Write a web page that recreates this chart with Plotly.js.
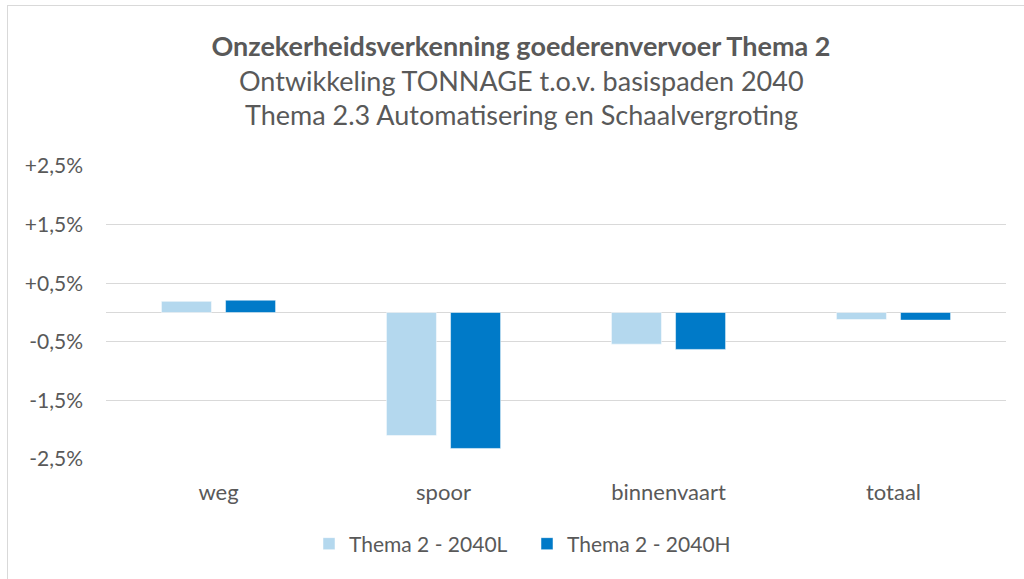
<!DOCTYPE html>
<html>
<head>
<meta charset="utf-8">
<script src="https://cdn.plot.ly/plotly-3.0.1.min.js"></script>
<style>
  html, body { margin: 0; padding: 0; background: #ffffff; }
  #wrap { position: relative; width: 1024px; height: 579px; overflow: hidden; }
  #chart { position: absolute; left: 0; top: 0; width: 1024px; height: 579px; }
  #frame { position: absolute; left: 7px; top: 5px; width: 1040px; height: 600px;
           border: 1px solid #d9d9d9; pointer-events: none; }
</style>
</head>
<body>
<div id="wrap">
  <div id="chart"></div>
  <div id="frame"></div>
</div>
<script>
const categories = ["weg", "spoor", "binnenvaart", "totaal"];
const seriesNames = ["Thema 2 - 2040L", "Thema 2 - 2040H"];
const valuesL = [0.19, -2.10, -0.54, -0.12];
const valuesH = [0.21, -2.32, -0.63, -0.13];
const yTickVals = [-2.5, -1.5, -0.5, 0.5, 1.5, 2.5];
const yTickText = ["-2,5%", "-1,5%", "-0,5%", "+0,5%", "+1,5%", "+2,5%"];
const titleLines = [
  "Onzekerheidsverkenning goederenvervoer Thema 2",
  "Ontwikkeling TONNAGE t.o.v. basispaden 2040",
  "Thema 2.3 Automatisering en Schaalvergroting"
];

const FONT = "Lato, 'Open Sans', 'Noto Sans', sans-serif";
const TXT = "#595959";
const TX = (521 - 106) / 900;

const traces = [
  { type: "bar", name: seriesNames[0], x: categories, y: valuesL,
    marker: { color: "#b4d8ee", line: { color: "#ffffff", width: 0.5 } }, hoverinfo: "skip" },
  { type: "bar", name: seriesNames[1], x: categories, y: valuesH,
    marker: { color: "#007ac8", line: { color: "#ffffff", width: 0.5 } }, hoverinfo: "skip" }
];

const layout = {
  width: 1024, height: 579,
  paper_bgcolor: "#ffffff", plot_bgcolor: "#ffffff",
  font: { family: FONT, color: TXT, size: 21 },
  margin: { l: 106, r: 18, t: 166, b: 120 },
  barmode: "group",
  bargap: 0.43,
  bargroupgap: 0.22,
  title: {
    text: "<b>" + titleLines[0] + "</b>",
    font: { family: FONT, size: 27, color: TXT },
    x: TX, xref: "paper", xanchor: "center",
    y: 1 - 47 / 579, yref: "container", yanchor: "middle"
  },
  annotations: [
    { text: titleLines[1], xref: "paper", yref: "paper", x: TX, xanchor: "center",
      y: 1 + (166 - 80) / 293, yanchor: "middle", showarrow: false,
      font: { family: FONT, size: 27, color: TXT } },
    { text: titleLines[2], xref: "paper", yref: "paper", x: TX, xanchor: "center",
      y: 1 + (166 - 114) / 293, yanchor: "middle", showarrow: false,
      font: { family: FONT, size: 27, color: TXT } }
  ],
  xaxis: {
    type: "category",
    showgrid: false, showline: false, zeroline: false,
    ticks: "", tickfont: { family: FONT, size: 22, color: TXT },
    ticklabelstandoff: 18,
    fixedrange: true
  },
  yaxis: {
    range: [-2.5, 2.5],
    tickmode: "array", tickvals: yTickVals, ticktext: yTickText,
    showgrid: true, gridcolor: "#d9d9d9", gridwidth: 1,
    zeroline: true, zerolinecolor: "#d9d9d9", zerolinewidth: 1.5,
    showline: false, ticks: "",
    tickfont: { family: FONT, size: 21, color: TXT },
    ticklabelstandoff: 22,
    fixedrange: true
  },
  showlegend: true,
  legend: {
    orientation: "h",
    x: (309 - 106) / 900, xanchor: "left", xref: "paper",
    y: -(544 - 459) / 293, yanchor: "middle", yref: "paper",
    font: { family: FONT, size: 21, color: TXT },
    itemwidth: 30,
    entrywidth: 173,
    bgcolor: "rgba(0,0,0,0)"
  }
};

Plotly.newPlot("chart", traces, layout, { displayModeBar: false, staticPlot: true });
</script>
</body>
</html>
